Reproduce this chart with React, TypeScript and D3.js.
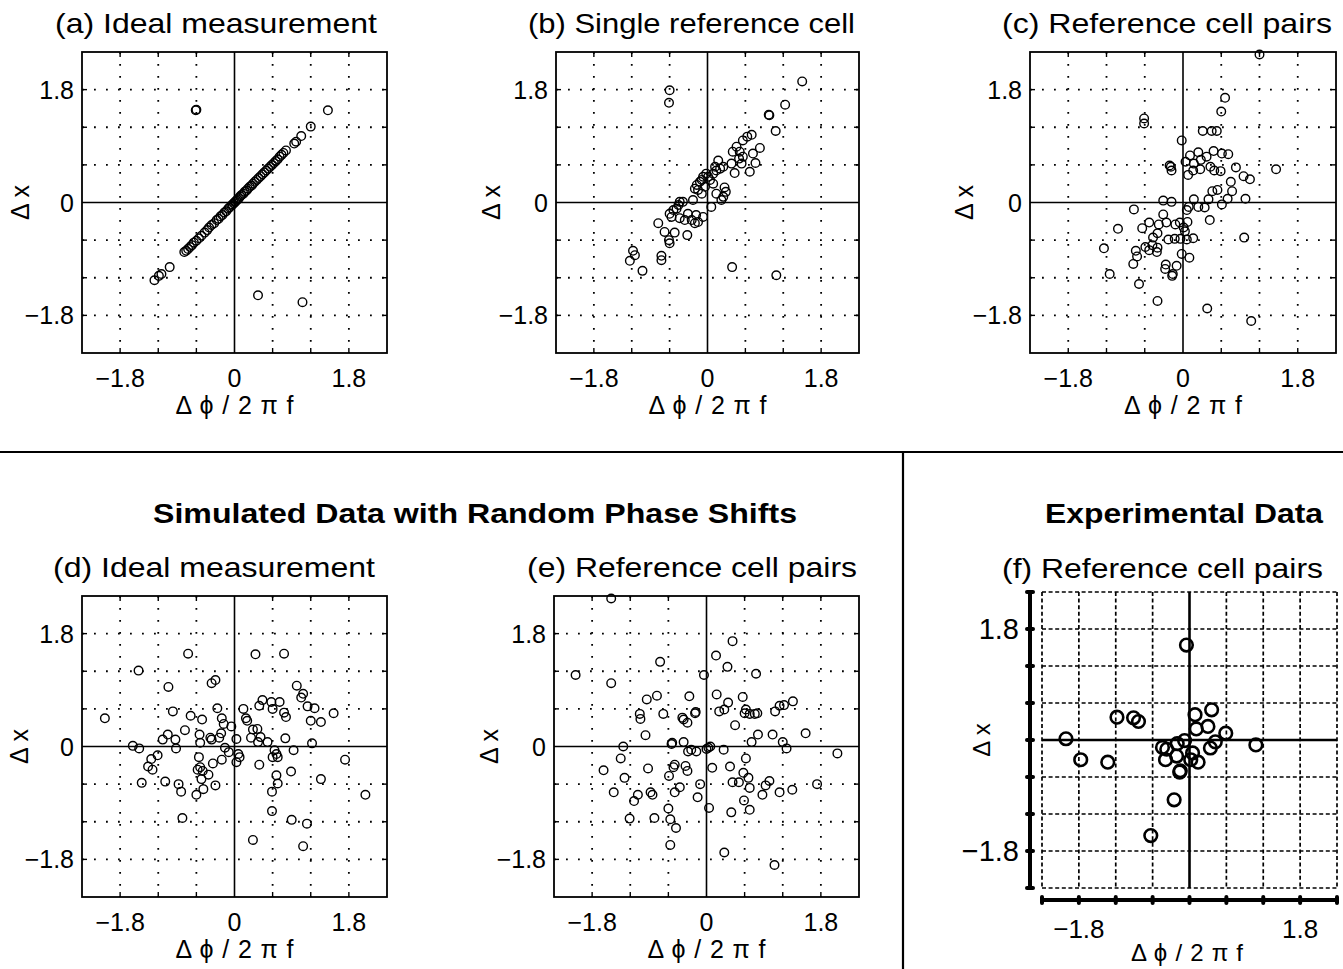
import React from "react";
import * as d3 from "d3";

// axis ticks (data units)
const gridTicks = [-2.4, -1.8, -1.2, -0.6, 0, 0.6, 1.2, 1.8, 2.4];
const labelTicks = [-1.8, 0, 1.8];
const labelText = ["\u22121.8", "0", "1.8"];
const xLabel = "\u0394 \u03d5 / 2 \u03c0 f";
const yLabel = "\u0394 x";

const panelTitles = [
  "(a) Ideal measurement",
  "(b) Single reference cell",
  "(c) Reference cell pairs",
  "(d) Ideal measurement",
  "(e) Reference cell pairs",
  "(f) Reference cell pairs",
];
const groupTitles = ["Simulated Data with Random Phase Shifts", "Experimental Data"];

// (a) ideal measurement
const pointsA = [
  [-0.61, 1.47], [-0.60, 1.48], [1.47, 1.47], [1.20, 1.21], [1.05, 1.06], [0.97, 0.97],
  [0.94, 0.94], [0.81, 0.83], [-1.02, -1.03], [-1.15, -1.14], [-1.19, -1.17], [-1.26, -1.24],
  [0.37, -1.48], [1.07, -1.59], [-0.79, -0.79], [-0.40, -0.40], [-0.19, -0.20],
  [-0.76, -0.77], [-0.73, -0.74], [-0.70, -0.71], [-0.67, -0.68], [-0.64, -0.64], [-0.60, -0.61],
  [-0.56, -0.57], [-0.52, -0.53], [-0.47, -0.48], [-0.43, -0.44], [-0.36, -0.36], [-0.32, -0.33],
  [-0.28, -0.28], [-0.25, -0.26], [-0.22, -0.22], [-0.16, -0.16], [-0.13, -0.14], [-0.10, -0.10],
  [-0.08, -0.08], [-0.05, -0.05], [-0.03, -0.03], [-0.01, -0.01], [0.01, 0.01], [0.03, 0.03],
  [0.05, 0.05], [0.07, 0.07], [0.09, 0.10], [0.11, 0.12], [0.14, 0.14], [0.16, 0.17],
  [0.19, 0.19], [0.21, 0.22], [0.24, 0.25], [0.27, 0.27], [0.29, 0.30], [0.32, 0.33],
  [0.35, 0.36], [0.38, 0.39], [0.41, 0.42], [0.44, 0.45], [0.47, 0.48], [0.50, 0.51],
  [0.53, 0.54], [0.56, 0.57], [0.59, 0.60], [0.62, 0.63], [0.65, 0.66], [0.68, 0.69],
  [0.71, 0.73], [0.74, 0.76], [0.77, 0.79],
];

// (b) single reference cell
const pointsB = [
  [-0.60, 1.79], [-0.61, 1.59], [1.50, 1.93], [1.23, 1.56], [0.98, 1.39], [0.97, 1.40],
  [1.08, 1.14], [0.70, 1.08], [0.63, 1.05], [0.56, 0.99], [0.83, 0.87], [0.46, 0.89],
  [0.40, 0.81], [0.51, 0.81], [0.72, 0.78], [0.76, 0.63], [0.67, 0.49], [0.43, 0.47],
  [0.38, 0.62], [0.54, 0.62], [0.56, 0.73], [0.50, 0.70], [0.25, 0.57], [0.20, 0.54],
  [0.14, 0.51], [0.09, 0.46], [0.12, 0.57], [-0.02, 0.46], [-0.07, 0.41], [-0.12, 0.33],
  [-0.17, 0.28], [-0.20, 0.22], [-0.15, 0.20], [-0.09, 0.14], [-0.04, 0.25], [0.04, 0.36],
  [0.09, 0.30], [0.27, 0.24], [0.29, 0.17], [0.14, 0.14], [0.22, 0.04], [0.25, 0.09],
  [0.06, -0.07], [-0.07, -0.23], [-0.15, -0.31], [-0.20, -0.33], [-0.25, -0.28], [-0.18, -0.20],
  [-0.31, -0.18], [-0.39, 0.01], [-0.44, 0.01], [-0.46, -0.04], [-0.49, -0.10], [-0.54, -0.12],
  [-0.60, -0.18], [-0.57, -0.23], [-0.44, -0.25], [-0.36, -0.28], [-0.78, -0.33], [-0.68, -0.47],
  [-0.52, -0.48], [-0.61, -0.60], [-0.60, -0.65], [-0.32, -0.52], [-1.18, -0.77], [-1.15, -0.84],
  [-1.23, -0.93], [-0.73, -0.85], [-0.73, -0.92], [-1.03, -1.09], [0.39, -1.03], [1.09, -1.16],
  [-0.09, 0.36], [0.01, 0.41], [0.17, 0.67], [-0.23, 0.04],
];

// (c) reference cell pairs
const pointsC = [
  [1.20, 2.36], [0.66, 1.67], [0.60, 1.45], [-0.61, 1.34], [-0.61, 1.26], [0.31, 1.14],
  [0.45, 1.14], [0.53, 1.14], [-0.02, 0.99], [0.11, 0.75], [0.24, 0.80], [0.37, 0.73],
  [0.48, 0.82], [0.61, 0.78], [0.71, 0.77], [0.04, 0.65], [0.17, 0.62], [0.28, 0.68],
  [-0.21, 0.59], [-0.18, 0.51], [-0.19, 0.57], [0.08, 0.44], [0.16, 0.51], [0.27, 0.53],
  [0.43, 0.57], [0.49, 0.51], [0.59, 0.50], [0.83, 0.56], [0.95, 0.42], [1.05, 0.37],
  [1.46, 0.53], [0.75, 0.33], [0.46, 0.18], [0.54, 0.20], [0.77, 0.18], [0.70, 0.06],
  [0.61, -0.03], [0.98, 0.06], [0.40, 0.05], [0.34, -0.08], [0.24, -0.07], [0.17, 0.05],
  [0.09, -0.07], [0.06, -0.12], [-0.31, 0.03], [-0.18, 0.01], [-0.77, -0.11], [-1.02, -0.42],
  [0.42, -0.28], [-0.31, -0.19], [-0.26, -0.32], [-0.38, -0.35], [-0.12, -0.35], [-0.05, -0.32],
  [0.07, -0.31], [-0.64, -0.41], [-0.53, -0.32], [-0.47, -0.56], [-0.40, -0.49], [-0.23, -0.59],
  [-0.13, -0.58], [0.01, -0.40], [0.03, -0.46], [0.06, -0.59], [0.16, -0.57], [-0.04, -0.58],
  [-1.24, -0.73], [-0.74, -0.77], [-0.72, -0.86], [-0.59, -0.71], [-0.53, -0.76], [-0.41, -0.79],
  [-0.40, -0.72], [-0.48, -0.68], [-0.02, -0.82], [0.10, -0.88], [-0.78, -0.98], [-0.27, -0.99],
  [-0.28, -1.06], [-0.16, -1.14], [-0.17, -1.17], [-0.10, -1.01], [-1.15, -1.14], [-0.69, -1.30],
  [-0.40, -1.57], [0.38, -1.69], [0.96, -0.56], [1.07, -1.89],
];

// (d) ideal measurement, random phase shifts
const pointsD = [
  [-0.73, 1.48], [0.33, 1.47], [0.78, 1.48], [-1.51, 1.21], [-1.04, 0.95], [-0.36, 1.01],
  [-0.30, 1.06], [0.98, 0.97], [1.08, 0.84], [1.05, 0.78], [0.44, 0.74], [0.58, 0.71],
  [0.71, 0.71], [0.39, 0.65], [0.14, 0.60], [0.60, 0.60], [1.15, 0.64], [1.26, 0.61],
  [-0.27, 0.61], [-0.97, 0.56], [-2.04, 0.45], [-0.69, 0.49], [-0.51, 0.43], [-0.20, 0.45],
  [-0.17, 0.36], [-0.05, 0.32], [0.18, 0.45], [0.20, 0.41], [0.78, 0.54], [0.81, 0.47],
  [1.56, 0.53], [1.20, 0.41], [1.36, 0.39], [-0.78, 0.26], [0.29, 0.27], [0.36, 0.28],
  [0.26, 0.14], [0.41, 0.15], [0.37, 0.07], [0.52, 0.07], [-0.21, 0.21], [-0.24, 0.14],
  [-0.38, 0.14], [-0.36, 0.11], [-1.05, 0.19], [-1.13, 0.11], [-0.93, 0.11], [-0.55, 0.19],
  [-0.54, 0.06], [0.03, 0.12], [0.80, 0.13], [1.22, 0.05], [-1.60, 0.01], [-1.50, -0.03],
  [-0.92, -0.03], [-0.15, -0.02], [-0.09, -0.09], [0.06, -0.12], [0.08, -0.17], [0.03, -0.25],
  [0.63, -0.06], [0.66, -0.12], [0.60, -0.17], [0.68, -0.17], [0.93, -0.06], [-1.21, -0.14],
  [-1.31, -0.20], [-1.36, -0.32], [-1.29, -0.37], [-0.56, -0.17], [-0.54, -0.33], [-0.58, -0.37],
  [-0.50, -0.39], [-0.52, -0.52], [-0.41, -0.45], [-0.34, -0.27], [-0.20, -0.21], [1.74, -0.21],
  [0.39, -0.29], [0.89, -0.40], [0.66, -0.46], [0.68, -0.59], [0.59, -0.72], [1.36, -0.52],
  [-1.46, -0.58], [-1.09, -0.56], [-0.88, -0.60], [-0.84, -0.72], [-0.30, -0.62], [-0.49, -0.68],
  [-0.60, -0.77], [2.06, -0.77], [0.59, -1.03], [-0.82, -1.14], [0.90, -1.17], [1.14, -1.23],
  [0.29, -1.49], [1.08, -1.59],
];

// (e) reference cell pairs, random phase shifts
const pointsE = [
  [-1.50, 2.36], [0.41, 1.68], [0.15, 1.45], [-0.73, 1.35], [0.33, 1.27], [-2.06, 1.14],
  [-0.04, 1.14], [0.78, 1.16], [-1.50, 1.01], [-0.78, 0.81], [-0.94, 0.75], [-0.27, 0.80],
  [0.16, 0.83], [0.57, 0.79], [0.34, 0.70], [0.28, 0.59], [0.20, 0.56], [0.62, 0.59],
  [0.60, 0.53], [0.68, 0.52], [0.80, 0.53], [0.76, 0.52], [1.08, 0.56], [1.15, 0.65],
  [1.22, 0.66], [1.36, 0.72], [-1.05, 0.52], [-1.04, 0.44], [-0.68, 0.52], [-0.38, 0.46],
  [-0.36, 0.43], [-0.30, 0.38], [-0.18, 0.53], [-0.17, 0.55], [0.45, 0.34], [-0.96, 0.18],
  [-0.54, 0.06], [-0.55, 0.04], [-0.36, 0.07], [0.81, 0.19], [1.04, 0.19], [1.20, 0.07],
  [1.26, -0.03], [1.56, 0.21], [0.71, 0.07], [-1.31, 0.00], [-0.29, -0.08], [-0.24, -0.05],
  [-0.16, -0.08], [0.03, -0.02], [0.06, 0.00], [0.00, -0.04], [0.27, -0.05], [2.06, -0.11],
  [-1.35, -0.19], [0.62, -0.19], [-1.62, -0.38], [-1.29, -0.50], [-1.46, -0.73], [-0.92, -0.35],
  [-0.50, -0.29], [-0.52, -0.33], [-0.59, -0.47], [-0.33, -0.31], [-0.30, -0.39], [0.09, -0.34],
  [0.37, -0.32], [0.58, -0.42], [0.66, -0.50], [0.68, -0.66], [0.41, -0.57], [0.51, -0.57],
  [0.99, -0.55], [0.93, -0.62], [0.88, -0.77], [1.15, -0.73], [1.35, -0.69], [1.74, -0.60],
  [-0.10, -0.60], [-0.42, -0.65], [-0.50, -0.73], [-0.88, -0.73], [-0.85, -0.77], [-1.08, -0.77],
  [-1.14, -0.87], [-0.14, -0.81], [0.59, -0.86], [0.68, -1.01], [0.04, -0.98], [0.39, -1.05],
  [-0.60, -0.99], [-0.57, -1.16], [-0.48, -1.30], [-1.21, -1.15], [-0.82, -1.14], [-0.57, -1.57],
  [0.28, -1.69], [1.07, -1.89],
];

// (f) experimental data
const pointsF = [
  [-0.05, 1.54], [-1.18, 0.37], [-0.91, 0.36], [-0.83, 0.30], [0.36, 0.49], [0.09, 0.41],
  [0.30, 0.22], [0.11, 0.18], [0.59, 0.11], [0.42, -0.03], [0.34, -0.13], [-2.01, 0.02],
  [-0.08, -0.01], [-0.20, -0.06], [1.08, -0.08], [-0.44, -0.12], [-0.37, -0.15], [-0.21, -0.26],
  [-0.39, -0.32], [0.05, -0.21], [0.02, -0.32], [0.14, -0.36], [-0.15, -0.50], [-0.16, -0.52],
  [-1.77, -0.32], [-1.33, -0.36], [-0.25, -0.97], [-0.63, -1.55],
];

const FONT = "'Liberation Sans', Arial, Helvetica, sans-serif";

// layout of the axes boxes (pixels)
const panels = [
  { data: pointsA, left: 82, top: 52, w: 305, h: 301, tx: 55, tw: 322, ty: 33, yl: 29 },
  { data: pointsB, left: 556, top: 52, w: 303, h: 301, tx: 528, tw: 327, ty: 33, yl: 500 },
  { data: pointsC, left: 1030, top: 52, w: 306, h: 301, tx: 1002, tw: 330, ty: 33, yl: 973 },
  { data: pointsD, left: 82, top: 596, w: 305, h: 301, tx: 53, tw: 322, ty: 577, yl: 28 },
  { data: pointsE, left: 554, top: 596, w: 305, h: 301, tx: 527, tw: 330, ty: 577, yl: 498 },
];

function Panel({ p, title }: any) {
  const x = d3.scaleLinear().domain([-2.4, 2.4]).range([p.left, p.left + p.w]);
  const y = d3.scaleLinear().domain([-2.4, 2.4]).range([p.top + p.h, p.top]);
  const inner = gridTicks.filter((t) => t !== 0 && Math.abs(t) < 2.4);
  const tk = 5;
  return (
    <g>
      <text x={p.tx} y={p.ty} fontSize={28} textLength={p.tw} lengthAdjust="spacingAndGlyphs" fontFamily={FONT}>
        {title}
      </text>
      {inner.map((t) => (
        <g key={"g" + t} stroke="#000" strokeWidth={1.8} strokeDasharray="1.8 10.2">
          <line x1={x(t)} x2={x(t)} y1={p.top} y2={p.top + p.h} />
          <line x1={p.left} x2={p.left + p.w} y1={y(t)} y2={y(t)} />
        </g>
      ))}
      <line x1={x(0)} x2={x(0)} y1={p.top} y2={p.top + p.h} stroke="#000" strokeWidth={1.6} />
      <line x1={p.left} x2={p.left + p.w} y1={y(0)} y2={y(0)} stroke="#000" strokeWidth={1.6} />
      {inner.map((t) => (
        <g key={"t" + t} stroke="#000" strokeWidth={1.4}>
          <line x1={x(t)} x2={x(t)} y1={p.top + p.h} y2={p.top + p.h - tk} />
          <line x1={x(t)} x2={x(t)} y1={p.top} y2={p.top + tk} />
          <line x1={p.left} x2={p.left + tk} y1={y(t)} y2={y(t)} />
          <line x1={p.left + p.w} x2={p.left + p.w - tk} y1={y(t)} y2={y(t)} />
        </g>
      ))}
      <rect x={p.left} y={p.top} width={p.w} height={p.h} fill="none" stroke="#000" strokeWidth={1.8} />
      {p.data.map((d: number[], i: number) => (
        <circle key={i} cx={x(d[0])} cy={y(d[1])} r={4.3} fill="none" stroke="#000" strokeWidth={1.4} />
      ))}
      {labelTicks.map((t, i) => (
        <g key={"l" + t} fontSize={25} fontFamily={FONT}>
          <text x={p.left - 8} y={y(t) + 9} textAnchor="end">{labelText[i]}</text>
          <text x={x(t)} y={p.top + p.h + 34} textAnchor="middle">{labelText[i]}</text>
        </g>
      ))}
      <text x={x(0)} y={p.top + p.h + 61} textAnchor="middle" fontSize={25} textLength={118} lengthAdjust="spacing" fontFamily={FONT}>{xLabel}</text>
      <text transform={`translate(${p.yl},${y(0)}) rotate(-90)`} textAnchor="middle" fontSize={25} fontFamily={FONT}>{yLabel}</text>
    </g>
  );
}

function PanelF() {
  const p = { left: 1042, top: 592, w: 295, h: 296 };
  const x = d3.scaleLinear().domain([-2.4, 2.4]).range([p.left, p.left + p.w]);
  const y = d3.scaleLinear().domain([-2.4, 2.4]).range([p.top + p.h, p.top]);
  const grid = gridTicks.filter((t) => t !== 0);
  const ax = 1030;
  const ay = 900;
  return (
    <g>
      <text x={1002} y={578} fontSize={28} textLength={321} lengthAdjust="spacingAndGlyphs" fontFamily={FONT}>
        {panelTitles[5]}
      </text>
      {grid.map((t) => (
        <g key={"g" + t} stroke="#000" strokeWidth={1.7} strokeDasharray="4 2.6">
          <line x1={x(t)} x2={x(t)} y1={p.top} y2={p.top + p.h} />
          <line x1={p.left} x2={p.left + p.w} y1={y(t)} y2={y(t)} />
        </g>
      ))}
      <line x1={x(0)} x2={x(0)} y1={p.top} y2={p.top + p.h} stroke="#000" strokeWidth={2.6} />
      <line x1={p.left} x2={p.left + p.w} y1={y(0)} y2={y(0)} stroke="#000" strokeWidth={2.6} />
      <line x1={ax} x2={ax} y1={p.top} y2={p.top + p.h} stroke="#000" strokeWidth={4} strokeLinecap="round" />
      <line x1={p.left} x2={p.left + p.w} y1={ay} y2={ay} stroke="#000" strokeWidth={4} strokeLinecap="round" />
      {gridTicks.map((t) => (
        <g key={"t" + t} stroke="#000" strokeWidth={4} strokeLinecap="round">
          <line x1={ax - 3} x2={ax + 3} y1={y(t)} y2={y(t)} />
          <line x1={x(t)} x2={x(t)} y1={ay - 3} y2={ay + 3} />
        </g>
      ))}
      {pointsF.map((d, i) => (
        <circle key={i} cx={x(d[0])} cy={y(d[1])} r={6.3} fill="none" stroke="#000" strokeWidth={2.6} />
      ))}
      {labelTicks.filter((t) => t !== 0).map((t) => (
        <g key={"l" + t} fontFamily={FONT}>
          <text x={1019} y={y(t) + 10} textAnchor="end" fontSize={29}>{t < 0 ? labelText[0] : labelText[2]}</text>
          <text x={x(t)} y={938} textAnchor="middle" fontSize={26}>{t < 0 ? labelText[0] : labelText[2]}</text>
        </g>
      ))}
      <text x={1187} y={961} textAnchor="middle" fontSize={24} textLength={112} lengthAdjust="spacing" fontFamily={FONT}>{xLabel}</text>
      <text transform={`translate(990,${y(0)}) rotate(-90)`} textAnchor="middle" fontSize={24} fontFamily={FONT}>{yLabel}</text>
    </g>
  );
}

export default function App() {
  return (
    <svg width={1343} height={969} style={{ position: "absolute", left: 0, top: 0, background: "#fff" }}>
      <rect width={1343} height={969} fill="#fff" />
      {panels.map((p, i) => (
        <Panel key={i} p={p} title={panelTitles[i]} />
      ))}
      <PanelF />
      <line x1={0} x2={1343} y1={452} y2={452} stroke="#000" strokeWidth={2.2} />
      <line x1={903} x2={903} y1={452} y2={969} stroke="#000" strokeWidth={2.2} />
      <text x={153} y={523} fontSize={28} fontWeight="bold" textLength={644} lengthAdjust="spacingAndGlyphs" fontFamily={FONT}>
        {groupTitles[0]}
      </text>
      <text x={1045} y={523} fontSize={28} fontWeight="bold" textLength={278} lengthAdjust="spacingAndGlyphs" fontFamily={FONT}>
        {groupTitles[1]}
      </text>
    </svg>
  );
}
